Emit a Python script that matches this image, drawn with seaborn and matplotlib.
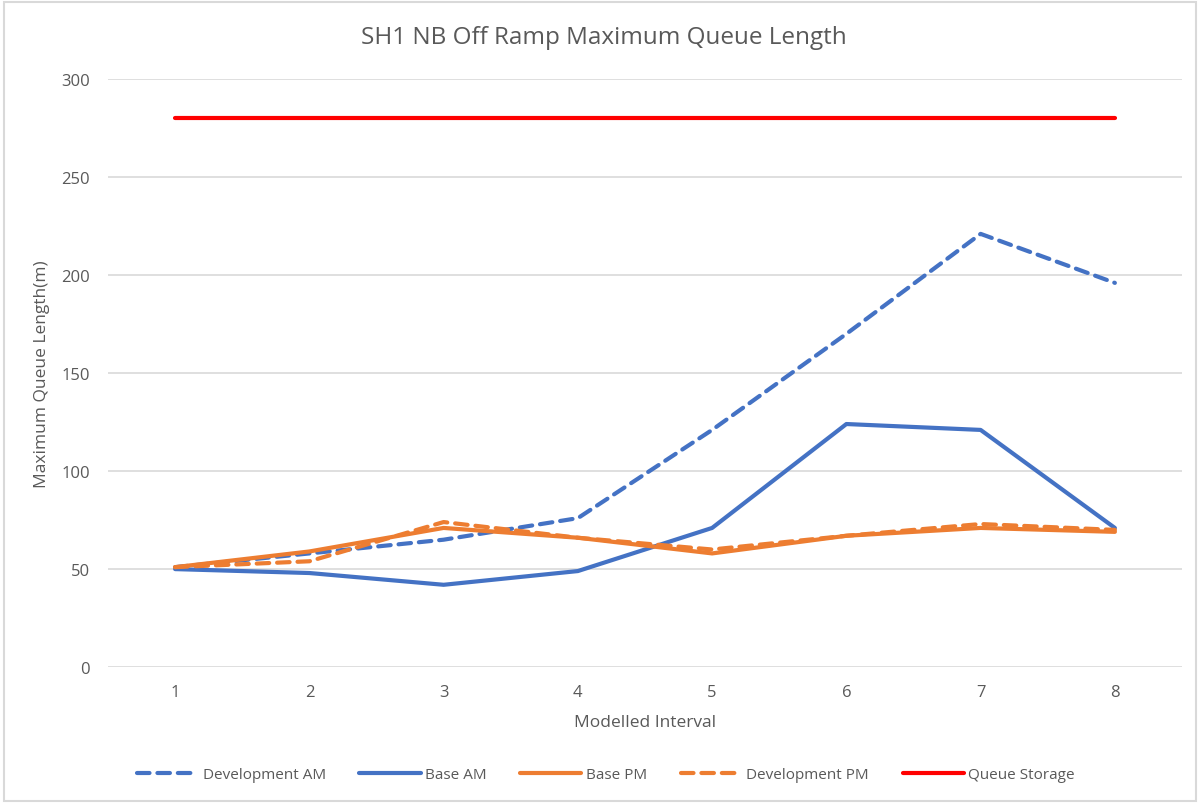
import matplotlib
matplotlib.use('Agg')
import matplotlib.pyplot as plt
from matplotlib.patches import Rectangle
import seaborn as sns
import pandas as pd

# Values
intervals = [1, 2, 3, 4, 5, 6, 7, 8]
dev_am = [51, 58, 65, 76, 121, 170, 221, 196]
base_am = [50, 48, 42, 49, 71, 124, 121, 71]
base_pm = [51, 59, 71, 66, 58, 67, 71, 69]
dev_pm = [51, 54, 74, 66, 60, 67, 73, 70]
queue_storage = [280, 280, 280, 280, 280, 280, 280, 280]

series = [
    ('Development AM', dev_am, '#4472C4', True),
    ('Base AM', base_am, '#4472C4', False),
    ('Base PM', base_pm, '#ED7D31', False),
    ('Development PM', dev_pm, '#ED7D31', True),
    ('Queue Storage', queue_storage, '#FF0000', False),
]

sns.set_style('white')
plt.rcParams['font.family'] = ['Open Sans', 'DejaVu Sans']
text_col = '#595959'

fig = plt.figure(figsize=(12, 8.04), dpi=100)
ax = fig.add_axes([0.09, 0.169, 0.895, 0.7315])

for name, vals, col, dashed in series:
    df = pd.DataFrame({'interval': intervals, 'value': vals})
    sns.lineplot(data=df, x='interval', y='value', ax=ax, color=col,
                 linewidth=3.0, label=name)
    l = ax.lines[-1]
    l.set_solid_capstyle('round')
    l.set_solid_joinstyle('round')
    if dashed:
        l.set_dashes((3.0, 1.9))
        l.set_dash_capstyle('round')

ax.set_xlim(0.5, 8.5)
ax.set_ylim(0, 300)
ax.set_xticks(intervals)
ax.set_yticks(range(0, 301, 50))
ax.grid(axis='y', color='#d9d9d9', linewidth=1.2)
ax.set_axisbelow(True)
for s in ax.spines.values():
    s.set_visible(False)
ax.tick_params(axis='both', length=0, labelsize=12, colors=text_col)
ax.tick_params(axis='x', pad=12)
ax.tick_params(axis='y', pad=13)

ax.set_xlabel('Modelled Interval', fontsize=12.5, color=text_col, labelpad=10)
ax.set_ylabel('Maximum Queue Length(m)', fontsize=12.5, color=text_col, labelpad=8)
fig.text(0.503, 0.953, 'SH1 NB Off Ramp Maximum Queue Length', ha='center', va='center',
         fontsize=17.5, color=text_col)

leg = ax.legend(loc='center', bbox_to_anchor=(0.505, 0.035), bbox_transform=fig.transFigure,
                ncol=5, frameon=False, fontsize=11, handlelength=4.0, handletextpad=0.3,
                columnspacing=2.2)
for t in leg.get_texts():
    t.set_color(text_col)

fig.patches.append(Rectangle((0.003, 0.003), 0.994, 0.993, transform=fig.transFigure,
                             fill=False, edgecolor='#d9d9d9', linewidth=1.5))

fig.savefig('out.png', dpi=100)
